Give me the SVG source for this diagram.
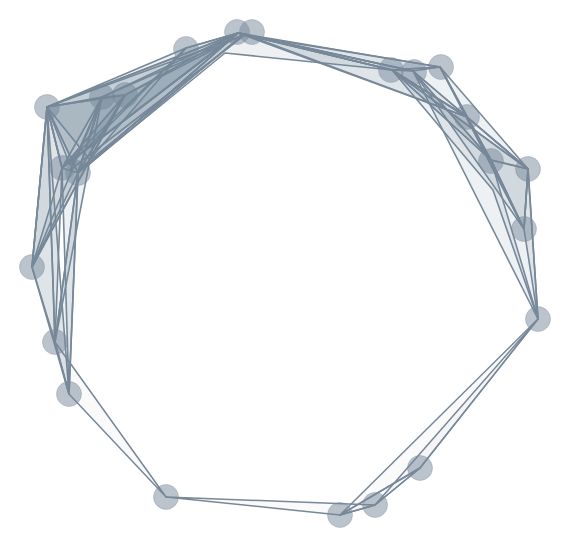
<svg xmlns="http://www.w3.org/2000/svg" width="572" height="558" viewBox="0 0 572 558">
<style>
.n{fill:#778899;fill-opacity:.5;stroke:#778899;stroke-opacity:.35;stroke-width:1}
.e{fill:#778899;fill-opacity:.12;stroke:#778899;stroke-width:1.6;stroke-linejoin:round}
.l{fill:#778899;fill-opacity:.04;stroke:#778899;stroke-width:1.5;stroke-linejoin:round}
</style>
<rect width="572" height="558" fill="#fff"/>
<g id="nodes">
<g id="n1"><circle class="n" cx="237" cy="32" r="12.5"/></g>
<g id="n2"><circle class="n" cx="252" cy="32" r="12.5"/></g>
<g id="n3"><circle class="n" cx="186" cy="49" r="12.5"/></g>
<g id="n4"><circle class="n" cx="47" cy="107" r="12.5"/></g>
<g id="n5"><circle class="n" cx="102" cy="97" r="12.5"/></g>
<g id="n6"><circle class="n" cx="125" cy="95" r="12.5"/></g>
<g id="n7"><circle class="n" cx="62" cy="168" r="12.5"/></g>
<g id="n8"><circle class="n" cx="78" cy="173" r="12.5"/></g>
<g id="n9"><circle class="n" cx="32" cy="267" r="12.5"/></g>
<g id="n10"><circle class="n" cx="55" cy="342" r="12.5"/></g>
<g id="n11"><circle class="n" cx="69" cy="394" r="12.5"/></g>
<g id="n12"><circle class="n" cx="166" cy="497" r="12.5"/></g>
<g id="n13"><circle class="n" cx="340" cy="515" r="12.5"/></g>
<g id="n14"><circle class="n" cx="375" cy="505" r="12.5"/></g>
<g id="n15"><circle class="n" cx="420" cy="468" r="12.5"/></g>
<g id="n16"><circle class="n" cx="538" cy="319" r="12.5"/></g>
<g id="n17"><circle class="n" cx="524" cy="229" r="12.5"/></g>
<g id="n18"><circle class="n" cx="528" cy="169" r="12.5"/></g>
<g id="n19"><circle class="n" cx="491" cy="161" r="12.5"/></g>
<g id="n20"><circle class="n" cx="467" cy="117" r="12.5"/></g>
<g id="n21"><circle class="n" cx="441" cy="67" r="12.5"/></g>
<g id="n22"><circle class="n" cx="414" cy="72" r="12.5"/></g>
<g id="n23"><circle class="n" cx="391" cy="70" r="12.5"/></g>
</g>
<g id="connectors">
<polygon class="e" points="47,107 238,33 78,173"/>
<polygon class="e" points="47,107 238,33 62,168"/>
<polygon class="e" points="47,107 244,35 90,160"/>
<polygon class="e" points="47,107 102,97 62,168"/>
<polygon class="e" points="47,107 125,95 78,173"/>
<polygon class="e" points="47,107 186,48 70,165"/>
<polygon class="e" points="238,33 102,97 78,173"/>
<polygon class="e" points="238,33 125,95 62,168"/>
<polygon class="e" points="238,33 186,48 62,168"/>
<polygon class="e" points="238,33 186,48 78,173"/>
<polygon class="e" points="246,34 102,97 70,170"/>
<polygon class="e" points="242,35 125,95 85,168"/>
<polygon class="e" points="102,97 125,95 78,173"/>
<polygon class="e" points="32,267 125,95 47,107"/>
<polygon class="e" points="32,267 102,97 78,173"/>
<polygon class="e" points="32,267 125,95 62,168"/>
<polygon class="e" points="47,107 62,168 55,342"/>
<polygon class="e" points="62,168 78,173 69,394"/>
<polygon class="e" points="78,173 55,342 69,394"/>
<polygon class="e" points="47,107 32,267 55,342"/>
<polygon class="e" points="102,97 55,342 78,173"/>
<polygon class="e" points="47,107 32,267 69,394"/>
<polygon class="e" points="78,173 225,53 392,70 238,33"/>
<polygon class="e" points="238,33 440,67 392,70"/>
<polygon class="e" points="238,33 413,71 467,117"/>
<polygon class="e" points="244,34 392,70 467,117"/>
<polygon class="e" points="250,36 440,67 413,71"/>
<polygon class="e" points="240,33 413,71 392,70"/>
<polygon class="e" points="392,70 440,67 467,117"/>
<polygon class="e" points="413,71 467,117 528,169"/>
<polygon class="e" points="392,70 491,160 528,169"/>
<polygon class="e" points="440,67 491,160 524,229"/>
<polygon class="e" points="440,67 467,117 528,169"/>
<polygon class="e" points="413,71 491,160 524,229"/>
<polygon class="e" points="392,70 467,117 491,160"/>
<polygon class="e" points="392,70 493,190 538,319 528,169"/>
<polygon class="e" points="413,71 491,160 538,319"/>
<polygon class="e" points="467,117 524,229 528,169"/>
<polygon class="e" points="491,160 528,169 524,229"/>
<polygon class="e" points="528,169 524,229 538,319"/>
<polygon class="l" points="55,342 69,394 166,497"/>
<polygon class="l" points="166,497 340,515 375,505"/>
<polygon class="l" points="340,515 420,468 375,505"/>
<polygon class="l" points="375,505 420,468 538,319"/>
<polygon class="l" points="340,515 420,468 538,319"/>
</g>
</svg>
